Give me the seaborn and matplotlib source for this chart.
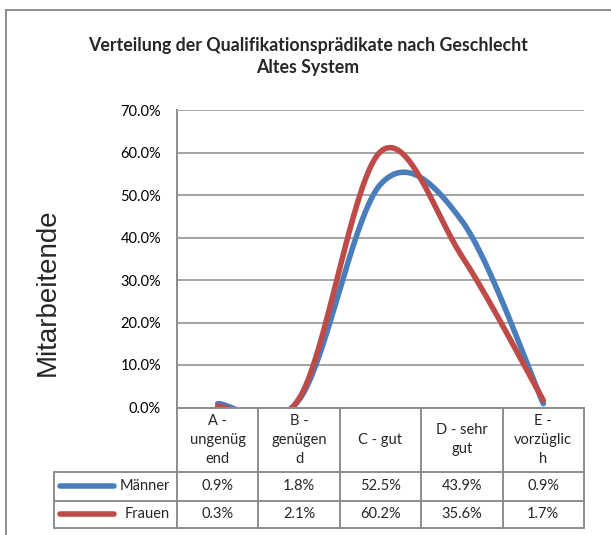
import numpy as np
import pandas as pd
import seaborn as sns
import matplotlib
matplotlib.use("Agg")
from matplotlib import pyplot as plt
from matplotlib import transforms
from matplotlib.patches import Rectangle
from matplotlib.ticker import PercentFormatter

# Werte aus der Datentabelle
kategorien = ["A -\nungenüg\nend", "B -\ngenügen\nd", "C - gut", "D - sehr\ngut", "E -\nvorzüglic\nh"]
maenner = [0.009, 0.018, 0.525, 0.439, 0.009]
frauen = [0.003, 0.021, 0.602, 0.356, 0.017]
maenner_txt = ["0.9%", "1.8%", "52.5%", "43.9%", "0.9%"]
frauen_txt = ["0.3%", "2.1%", "60.2%", "35.6%", "1.7%"]

BLAU = "#4A7EBB"
ROT = "#BE4B48"
GRAU = "#8C8C8C"


def glaetten(werte, n=40):
    # Excel-artige geglaettete Linie (Bezier durch die Punkte)
    pts = np.column_stack([np.arange(len(werte)), werte]).astype(float)
    ext = np.vstack([pts[0], pts, pts[-1]])
    t = np.linspace(0, 1, n)[:, None]
    segs = []
    for i in range(len(pts) - 1):
        p0, p3 = pts[i], pts[i + 1]
        c1 = p0 + (ext[i + 2] - ext[i]) / 6
        c2 = p3 - (ext[i + 3] - ext[i + 1]) / 6
        segs.append((1 - t) ** 3 * p0 + 3 * (1 - t) ** 2 * t * c1 + 3 * (1 - t) * t ** 2 * c2 + t ** 3 * p3)
    kurve = np.vstack(segs)
    return kurve[:, 0], kurve[:, 1]


sns.set_style("white")
plt.rcParams["font.family"] = ["Lato", "DejaVu Sans"]

fig = plt.figure(figsize=(6.11, 5.35), dpi=100)
ax = fig.add_axes([177 / 611, 1 - 407.5 / 535, 407 / 611, 297.5 / 535])

for werte, farbe, name in [(maenner, BLAU, "Männer"), (frauen, ROT, "Frauen")]:
    x, y = glaetten(werte)
    df = pd.DataFrame({"x": x, "y": y})
    sns.lineplot(data=df, x="x", y="y", sort=False, estimator=None, color=farbe,
                 linewidth=4, ax=ax, label=name, legend=False, solid_capstyle="round")

ax.set_xlim(-0.5, 4.5)
ax.set_ylim(0, 0.7)
ax.set_yticks(np.arange(0, 0.71, 0.1))
ax.yaxis.set_major_formatter(PercentFormatter(1.0, decimals=1))
ax.set_xticks([])
ax.set_xlabel("")
ax.set_ylabel("")
ax.grid(axis="y", color=GRAU, linewidth=1.1)
ax.set_axisbelow(True)
ax.tick_params(axis="y", length=0, pad=11.5, labelsize=10.5, colors="black")
for s in ["top", "right"]:
    ax.spines[s].set_visible(False)
for s in ["left", "bottom"]:
    ax.spines[s].set_color(GRAU)
    ax.spines[s].set_linewidth(1.4)

# Datentabelle unter dem Diagramm
tr = transforms.blended_transform_factory(ax.transData, ax.transAxes)
y_kopf, y_m, y_f = -0.2168, -0.313, -0.405
x_links = -2.017
kw = dict(color=GRAU, linewidth=1.4, transform=tr, clip_on=False)
for xv in np.arange(-0.5, 5, 1.0):
    ax.plot([xv, xv], [0, y_f], **kw)
ax.plot([x_links, x_links], [y_kopf, y_f], **kw)
for yv in [y_kopf, y_m, y_f]:
    ax.plot([x_links, 4.5], [yv, yv], **kw)

for i, k in enumerate(kategorien):
    ax.text(i, y_kopf / 2, k, transform=tr, ha="center", va="center", fontsize=10.5,
            linespacing=1.45)
    ax.text(i, (y_kopf + y_m) / 2, maenner_txt[i], transform=tr, ha="center", va="center", fontsize=10.5)
    ax.text(i, (y_m + y_f) / 2, frauen_txt[i], transform=tr, ha="center", va="center", fontsize=10.5)

for name, farbe, ym in [("Männer", BLAU, (y_kopf + y_m) / 2), ("Frauen", ROT, (y_m + y_f) / 2)]:
    ax.plot([-1.937, -1.274], [ym, ym], color=farbe, linewidth=4, transform=tr,
            clip_on=False, solid_capstyle="round")
    ax.text(-0.59, ym, name, transform=tr, ha="right", va="center", fontsize=10.5)

# Titel und Achsentitel
fig.text(0.504, 1 - 45 / 535, "Verteilung der Qualifikationsprädikate nach Geschlecht",
         ha="center", va="center", fontsize=12.8, fontweight="bold")
fig.text(0.504, 1 - 68 / 535, "Altes System", ha="center", va="center", fontsize=12.8, fontweight="bold")
fig.text(48 / 611, 1 - 292 / 535, "Mitarbeitende", rotation=90, ha="center", va="center",
         fontsize=20, family=["Liberation Sans", "DejaVu Sans"])

# Rahmen des Diagrammbereichs
fig.patches.append(Rectangle((6 / 611, -0.1), 1.2, 1 - 10 / 535 + 0.1, transform=fig.transFigure,
                             fill=False, edgecolor=GRAU, linewidth=1.4))

fig.savefig("out.png", dpi=100)
